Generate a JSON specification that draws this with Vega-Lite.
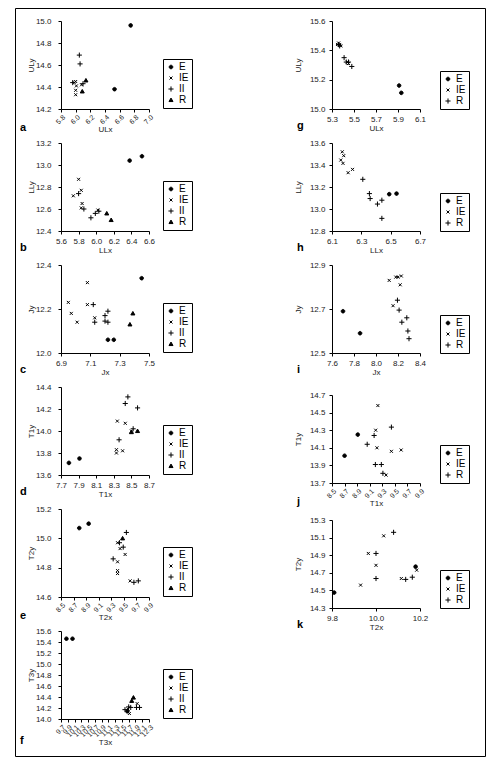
{
  "$schema": "https://vega.github.io/schema/vega-lite/v6.json",
  "padding": {"left": 14, "top": 7, "right": 5, "bottom": 8},
  "background": "white",
  "bounds": "flush",
  "columns": 2,
  "align": "none",
  "spacing": {"column": -424, "row": 0},
  "resolve": {"scale": {"shape": "independent"}, "legend": {"shape": "independent"}},
  "datasets": {
    "a": [
      {"g": "E", "x": 6.75, "y": 14.96}, {"g": "E", "x": 6.53, "y": 14.38},
      {"g": "IE", "x": 6.0, "y": 14.45}, {"g": "IE", "x": 6.01, "y": 14.41}, {"g": "IE", "x": 6.0, "y": 14.37}, {"g": "IE", "x": 6.0, "y": 14.33}, {"g": "IE", "x": 6.08, "y": 14.42}, {"g": "IE", "x": 5.98, "y": 14.44},
      {"g": "II", "x": 6.05, "y": 14.69}, {"g": "II", "x": 6.06, "y": 14.61}, {"g": "II", "x": 5.96, "y": 14.44}, {"g": "II", "x": 6.1, "y": 14.43},
      {"g": "R", "x": 6.14, "y": 14.46}, {"g": "R", "x": 6.09, "y": 14.36}
    ],
    "b": [
      {"g": "E", "x": 6.38, "y": 13.04}, {"g": "E", "x": 6.52, "y": 13.08},
      {"g": "IE", "x": 5.8, "y": 12.87}, {"g": "IE", "x": 5.83, "y": 12.77}, {"g": "IE", "x": 5.74, "y": 12.72}, {"g": "IE", "x": 5.84, "y": 12.65}, {"g": "IE", "x": 5.83, "y": 12.61}, {"g": "IE", "x": 6.02, "y": 12.59},
      {"g": "II", "x": 5.8, "y": 12.74}, {"g": "II", "x": 5.86, "y": 12.6}, {"g": "II", "x": 5.94, "y": 12.52}, {"g": "II", "x": 5.99, "y": 12.56}, {"g": "II", "x": 6.03, "y": 12.58},
      {"g": "R", "x": 6.12, "y": 12.56}, {"g": "R", "x": 6.17, "y": 12.5}
    ],
    "c": [
      {"g": "E", "x": 7.45, "y": 12.34}, {"g": "E", "x": 7.22, "y": 12.06}, {"g": "E", "x": 7.26, "y": 12.06},
      {"g": "IE", "x": 7.08, "y": 12.32}, {"g": "IE", "x": 6.95, "y": 12.23}, {"g": "IE", "x": 6.97, "y": 12.18}, {"g": "IE", "x": 7.08, "y": 12.22}, {"g": "IE", "x": 7.01, "y": 12.14}, {"g": "IE", "x": 7.13, "y": 12.16},
      {"g": "II", "x": 7.12, "y": 12.22}, {"g": "II", "x": 7.13, "y": 12.14}, {"g": "II", "x": 7.2, "y": 12.17}, {"g": "II", "x": 7.22, "y": 12.19}, {"g": "II", "x": 7.2, "y": 12.145}, {"g": "II", "x": 7.22, "y": 12.14},
      {"g": "R", "x": 7.37, "y": 12.13}, {"g": "R", "x": 7.39, "y": 12.18}
    ],
    "d": [
      {"g": "E", "x": 7.79, "y": 13.71}, {"g": "E", "x": 7.91, "y": 13.75},
      {"g": "IE", "x": 8.34, "y": 14.09}, {"g": "IE", "x": 8.43, "y": 14.07}, {"g": "IE", "x": 8.33, "y": 13.83}, {"g": "IE", "x": 8.33, "y": 13.8}, {"g": "IE", "x": 8.4, "y": 13.82}, {"g": "IE", "x": 8.5, "y": 14.0},
      {"g": "II", "x": 8.46, "y": 14.31}, {"g": "II", "x": 8.43, "y": 14.25}, {"g": "II", "x": 8.57, "y": 14.21}, {"g": "II", "x": 8.36, "y": 13.92}, {"g": "II", "x": 8.52, "y": 14.02},
      {"g": "R", "x": 8.5, "y": 13.99}, {"g": "R", "x": 8.57, "y": 14.0}
    ],
    "e": [
      {"g": "E", "x": 8.79, "y": 15.07}, {"g": "E", "x": 8.94, "y": 15.1},
      {"g": "IE", "x": 9.4, "y": 14.97}, {"g": "IE", "x": 9.44, "y": 14.93}, {"g": "IE", "x": 9.52, "y": 14.89}, {"g": "IE", "x": 9.4, "y": 14.84}, {"g": "IE", "x": 9.4, "y": 14.78}, {"g": "IE", "x": 9.4, "y": 14.76}, {"g": "IE", "x": 9.6, "y": 14.71},
      {"g": "II", "x": 9.54, "y": 15.04}, {"g": "II", "x": 9.43, "y": 14.97}, {"g": "II", "x": 9.49, "y": 14.94}, {"g": "II", "x": 9.33, "y": 14.86}, {"g": "II", "x": 9.66, "y": 14.7}, {"g": "II", "x": 9.73, "y": 14.71},
      {"g": "R", "x": 9.48, "y": 15.0}
    ],
    "f": [
      {"g": "E", "x": 9.86, "y": 15.46}, {"g": "E", "x": 10.04, "y": 15.46}, {"g": "E", "x": 11.66, "y": 14.14},
      {"g": "IE", "x": 11.72, "y": 14.1}, {"g": "IE", "x": 11.95, "y": 14.28}, {"g": "IE", "x": 11.68, "y": 14.18},
      {"g": "II", "x": 11.59, "y": 14.17}, {"g": "II", "x": 11.7, "y": 14.22}, {"g": "II", "x": 11.76, "y": 14.21}, {"g": "II", "x": 11.93, "y": 14.21}, {"g": "II", "x": 12.02, "y": 14.21},
      {"g": "R", "x": 11.84, "y": 14.39}, {"g": "R", "x": 11.79, "y": 14.33}
    ],
    "g": [
      {"g": "E", "x": 5.91, "y": 15.16}, {"g": "E", "x": 5.93, "y": 15.11},
      {"g": "IE", "x": 5.36, "y": 15.45}, {"g": "IE", "x": 5.37, "y": 15.44}, {"g": "IE", "x": 5.38, "y": 15.43}, {"g": "IE", "x": 5.35, "y": 15.44}, {"g": "IE", "x": 5.44, "y": 15.32}, {"g": "IE", "x": 5.45, "y": 15.31},
      {"g": "R", "x": 5.36, "y": 15.44}, {"g": "R", "x": 5.37, "y": 15.43}, {"g": "R", "x": 5.41, "y": 15.35}, {"g": "R", "x": 5.43, "y": 15.32}, {"g": "R", "x": 5.45, "y": 15.32}, {"g": "R", "x": 5.48, "y": 15.29}
    ],
    "h": [
      {"g": "E", "x": 6.49, "y": 13.135}, {"g": "E", "x": 6.54, "y": 13.14},
      {"g": "IE", "x": 6.17, "y": 13.52}, {"g": "IE", "x": 6.18, "y": 13.485}, {"g": "IE", "x": 6.16, "y": 13.445}, {"g": "IE", "x": 6.175, "y": 13.415}, {"g": "IE", "x": 6.21, "y": 13.33}, {"g": "IE", "x": 6.24, "y": 13.36},
      {"g": "R", "x": 6.31, "y": 13.27}, {"g": "R", "x": 6.355, "y": 13.14}, {"g": "R", "x": 6.36, "y": 13.095}, {"g": "R", "x": 6.41, "y": 13.045}, {"g": "R", "x": 6.44, "y": 13.08}, {"g": "R", "x": 6.44, "y": 12.915}
    ],
    "i": [
      {"g": "E", "x": 7.7, "y": 12.69}, {"g": "E", "x": 7.855, "y": 12.59},
      {"g": "IE", "x": 8.12, "y": 12.83}, {"g": "IE", "x": 8.18, "y": 12.845}, {"g": "IE", "x": 8.2, "y": 12.845}, {"g": "IE", "x": 8.23, "y": 12.85}, {"g": "IE", "x": 8.22, "y": 12.81}, {"g": "IE", "x": 8.155, "y": 12.715},
      {"g": "R", "x": 8.195, "y": 12.74}, {"g": "R", "x": 8.21, "y": 12.695}, {"g": "R", "x": 8.28, "y": 12.66}, {"g": "R", "x": 8.235, "y": 12.64}, {"g": "R", "x": 8.29, "y": 12.6}, {"g": "R", "x": 8.3, "y": 12.565}
    ],
    "j": [
      {"g": "E", "x": 8.7, "y": 14.01}, {"g": "E", "x": 8.91, "y": 14.25},
      {"g": "IE", "x": 9.23, "y": 14.58}, {"g": "IE", "x": 9.195, "y": 14.3}, {"g": "IE", "x": 9.215, "y": 14.1}, {"g": "IE", "x": 9.445, "y": 14.06}, {"g": "IE", "x": 9.6, "y": 14.075}, {"g": "IE", "x": 9.36, "y": 13.79},
      {"g": "R", "x": 9.17, "y": 14.24}, {"g": "R", "x": 9.06, "y": 14.14}, {"g": "R", "x": 9.19, "y": 13.91}, {"g": "R", "x": 9.285, "y": 13.91}, {"g": "R", "x": 9.31, "y": 13.81}, {"g": "R", "x": 9.445, "y": 14.335}
    ],
    "k": [
      {"g": "E", "x": 9.81, "y": 14.475}, {"g": "E", "x": 10.18, "y": 14.77},
      {"g": "IE", "x": 9.965, "y": 14.92}, {"g": "IE", "x": 10.035, "y": 15.12}, {"g": "IE", "x": 10.0, "y": 14.785}, {"g": "IE", "x": 9.93, "y": 14.56}, {"g": "IE", "x": 10.115, "y": 14.635}, {"g": "IE", "x": 10.185, "y": 14.73},
      {"g": "R", "x": 10.08, "y": 15.16}, {"g": "R", "x": 10.0, "y": 14.92}, {"g": "R", "x": 10.0, "y": 14.635}, {"g": "R", "x": 10.135, "y": 14.625}, {"g": "R", "x": 10.165, "y": 14.65}
    ]
  },
  "concat": [
    {
      "width": 470, "height": 748,
      "view": {"stroke": "black", "strokeWidth": 1},
      "data": {"values": []},
      "mark": "point"
    },
    {
      "bounds": "flush", "spacing": 12,
      "resolve": {"scale": {"shape": "independent"}, "legend": {"shape": "independent"}},
      "vconcat": [
        {"width": 1, "height": 1, "data": {"values": []}, "mark": "point"},
        {
          "bounds": "flush", "spacing": 271,
          "resolve": {"scale": {"shape": "independent"}, "legend": {"shape": "independent"}},
          "hconcat": [
            {
              "bounds": "flush", "spacing": 34,
              "resolve": {"scale": {"shape": "independent"}, "legend": {"shape": "independent"}},
              "vconcat": [
                {
                  "width": 88, "height": 88, "data": {"name": "a"},
                  "title": {"text": "a", "orient": "bottom", "anchor": "start", "frame": "group", "dx": -41, "offset": -12},
                  "mark": {"type": "point", "filled": true, "fill": "black", "stroke": "black", "strokeWidth": 1, "size": 36, "opacity": 1},
                  "encoding": {
                    "x": {"field": "x", "type": "quantitative", "scale": {"domain": [5.8, 7.0], "nice": false, "zero": false}, "axis": {"title": "ULx", "values": [5.8, 6.0, 6.2, 6.4, 6.6, 6.8, 7.0], "labelAngle": -45, "labelFontSize": 7, "labelPadding": 1, "titlePadding": 1}},
                    "y": {"field": "y", "type": "quantitative", "scale": {"domain": [14.2, 15.0], "nice": false, "zero": false}, "axis": {"title": "ULy", "values": [14.2, 14.4, 14.6, 14.8, 15.0]}},
                    "shape": {"field": "g", "type": "nominal", "scale": {"domain": ["E", "IE", "II", "R"], "range": ["M0.6,0A0.6,0.6,0,1,1,-0.6,0A0.6,0.6,0,1,1,0.6,0Z", "M-0.5,-0.5L0.5,0.5M-0.5,0.5L0.5,-0.5", "M-0.85,0L0.85,0M0,-0.85L0,0.85", "M0,-0.65L0.67,0.52L-0.67,0.52Z"]}, "legend": {"title": null, "orient": "none", "legendX": 102, "legendY": 38}}
                  }
                },
                {
                  "width": 88, "height": 88, "data": {"name": "b"},
                  "title": {"text": "b", "orient": "bottom", "anchor": "start", "frame": "group", "dx": -41, "offset": -12},
                  "mark": {"type": "point", "filled": true, "fill": "black", "stroke": "black", "strokeWidth": 1, "size": 36, "opacity": 1},
                  "encoding": {
                    "x": {"field": "x", "type": "quantitative", "scale": {"domain": [5.6, 6.6], "nice": false, "zero": false}, "axis": {"title": "LLx", "values": [5.6, 5.8, 6.0, 6.2, 6.4, 6.6]}},
                    "y": {"field": "y", "type": "quantitative", "scale": {"domain": [12.4, 13.2], "nice": false, "zero": false}, "axis": {"title": "LLy", "values": [12.4, 12.6, 12.8, 13.0, 13.2]}},
                    "shape": {"field": "g", "type": "nominal", "scale": {"domain": ["E", "IE", "II", "R"], "range": ["M0.6,0A0.6,0.6,0,1,1,-0.6,0A0.6,0.6,0,1,1,0.6,0Z", "M-0.5,-0.5L0.5,0.5M-0.5,0.5L0.5,-0.5", "M-0.85,0L0.85,0M0,-0.85L0,0.85", "M0,-0.65L0.67,0.52L-0.67,0.52Z"]}, "legend": {"title": null, "orient": "none", "legendX": 102, "legendY": 38}}
                  }
                },
                {
                  "width": 88, "height": 88, "data": {"name": "c"},
                  "title": {"text": "c", "orient": "bottom", "anchor": "start", "frame": "group", "dx": -41, "offset": -12},
                  "mark": {"type": "point", "filled": true, "fill": "black", "stroke": "black", "strokeWidth": 1, "size": 36, "opacity": 1},
                  "encoding": {
                    "x": {"field": "x", "type": "quantitative", "scale": {"domain": [6.9, 7.5], "nice": false, "zero": false}, "axis": {"title": "Jx", "values": [6.9, 7.1, 7.3, 7.5]}},
                    "y": {"field": "y", "type": "quantitative", "scale": {"domain": [12.0, 12.4], "nice": false, "zero": false}, "axis": {"title": "Jy", "values": [12.0, 12.2, 12.4]}},
                    "shape": {"field": "g", "type": "nominal", "scale": {"domain": ["E", "IE", "II", "R"], "range": ["M0.6,0A0.6,0.6,0,1,1,-0.6,0A0.6,0.6,0,1,1,0.6,0Z", "M-0.5,-0.5L0.5,0.5M-0.5,0.5L0.5,-0.5", "M-0.85,0L0.85,0M0,-0.85L0,0.85", "M0,-0.65L0.67,0.52L-0.67,0.52Z"]}, "legend": {"title": null, "orient": "none", "legendX": 102, "legendY": 38}}
                  }
                },
                {
                  "width": 88, "height": 88, "data": {"name": "d"},
                  "title": {"text": "d", "orient": "bottom", "anchor": "start", "frame": "group", "dx": -41, "offset": -12},
                  "mark": {"type": "point", "filled": true, "fill": "black", "stroke": "black", "strokeWidth": 1, "size": 36, "opacity": 1},
                  "encoding": {
                    "x": {"field": "x", "type": "quantitative", "scale": {"domain": [7.7, 8.7], "nice": false, "zero": false}, "axis": {"title": "T1x", "values": [7.7, 7.9, 8.1, 8.3, 8.5, 8.7]}},
                    "y": {"field": "y", "type": "quantitative", "scale": {"domain": [13.6, 14.4], "nice": false, "zero": false}, "axis": {"title": "T1y", "values": [13.6, 13.8, 14.0, 14.2, 14.4]}},
                    "shape": {"field": "g", "type": "nominal", "scale": {"domain": ["E", "IE", "II", "R"], "range": ["M0.6,0A0.6,0.6,0,1,1,-0.6,0A0.6,0.6,0,1,1,0.6,0Z", "M-0.5,-0.5L0.5,0.5M-0.5,0.5L0.5,-0.5", "M-0.85,0L0.85,0M0,-0.85L0,0.85", "M0,-0.65L0.67,0.52L-0.67,0.52Z"]}, "legend": {"title": null, "orient": "none", "legendX": 102, "legendY": 38}}
                  }
                },
                {
                  "width": 88, "height": 88, "data": {"name": "e"},
                  "title": {"text": "e", "orient": "bottom", "anchor": "start", "frame": "group", "dx": -41, "offset": -12},
                  "mark": {"type": "point", "filled": true, "fill": "black", "stroke": "black", "strokeWidth": 1, "size": 36, "opacity": 1},
                  "encoding": {
                    "x": {"field": "x", "type": "quantitative", "scale": {"domain": [8.5, 9.9], "nice": false, "zero": false}, "axis": {"title": "T2x", "values": [8.5, 8.7, 8.9, 9.1, 9.3, 9.5, 9.7, 9.9], "labelAngle": -45, "labelFontSize": 7, "labelPadding": 1, "titlePadding": 1}},
                    "y": {"field": "y", "type": "quantitative", "scale": {"domain": [14.6, 15.2], "nice": false, "zero": false}, "axis": {"title": "T2y", "values": [14.6, 14.8, 15.0, 15.2]}},
                    "shape": {"field": "g", "type": "nominal", "scale": {"domain": ["E", "IE", "II", "R"], "range": ["M0.6,0A0.6,0.6,0,1,1,-0.6,0A0.6,0.6,0,1,1,0.6,0Z", "M-0.5,-0.5L0.5,0.5M-0.5,0.5L0.5,-0.5", "M-0.85,0L0.85,0M0,-0.85L0,0.85", "M0,-0.65L0.67,0.52L-0.67,0.52Z"]}, "legend": {"title": null, "orient": "none", "legendX": 102, "legendY": 38}}
                  }
                },
                {
                  "width": 88, "height": 88, "data": {"name": "f"},
                  "title": {"text": "f", "orient": "bottom", "anchor": "start", "frame": "group", "dx": -41, "offset": -12},
                  "mark": {"type": "point", "filled": true, "fill": "black", "stroke": "black", "strokeWidth": 1, "size": 36, "opacity": 1},
                  "encoding": {
                    "x": {"field": "x", "type": "quantitative", "scale": {"domain": [9.7, 12.3], "nice": false, "zero": false}, "axis": {"title": "T3x", "values": [9.7, 9.9, 10.1, 10.3, 10.5, 10.7, 10.9, 11.1, 11.3, 11.5, 11.7, 11.9, 12.1, 12.3], "labelAngle": -45, "labelFontSize": 7, "labelPadding": 1, "titlePadding": 1}},
                    "y": {"field": "y", "type": "quantitative", "scale": {"domain": [14.0, 15.6], "nice": false, "zero": false}, "axis": {"title": "T3y", "values": [14.0, 14.2, 14.4, 14.6, 14.8, 15.0, 15.2, 15.4, 15.6]}},
                    "shape": {"field": "g", "type": "nominal", "scale": {"domain": ["E", "IE", "II", "R"], "range": ["M0.6,0A0.6,0.6,0,1,1,-0.6,0A0.6,0.6,0,1,1,0.6,0Z", "M-0.5,-0.5L0.5,0.5M-0.5,0.5L0.5,-0.5", "M-0.85,0L0.85,0M0,-0.85L0,0.85", "M0,-0.65L0.67,0.52L-0.67,0.52Z"]}, "legend": {"title": null, "orient": "none", "legendX": 102, "legendY": 38}}
                  }
                }
              ]
            },
            {
              "bounds": "flush", "spacing": 374,
              "resolve": {"scale": {"shape": "independent"}, "legend": {"shape": "independent"}},
              "vconcat": [
                {
                  "bounds": "flush", "spacing": 34,
                  "resolve": {"scale": {"shape": "independent"}, "legend": {"shape": "independent"}},
                  "vconcat": [
                    {
                      "width": 88, "height": 88, "data": {"name": "g"},
                      "title": {"text": "g", "orient": "bottom", "anchor": "start", "frame": "group", "dx": -35, "offset": -12},
                      "mark": {"type": "point", "filled": true, "fill": "black", "stroke": "black", "strokeWidth": 1, "size": 36, "opacity": 1},
                      "encoding": {
                        "x": {"field": "x", "type": "quantitative", "scale": {"domain": [5.3, 6.1], "nice": false, "zero": false}, "axis": {"title": "ULx", "values": [5.3, 5.5, 5.7, 5.9, 6.1]}},
                        "y": {"field": "y", "type": "quantitative", "scale": {"domain": [15.0, 15.6], "nice": false, "zero": false}, "axis": {"title": "ULy", "values": [15.0, 15.2, 15.4, 15.6], "labelPadding": 4, "titlePadding": 7}},
                        "shape": {"field": "g", "type": "nominal", "scale": {"domain": ["E", "IE", "R"], "range": ["M0.6,0A0.6,0.6,0,1,1,-0.6,0A0.6,0.6,0,1,1,0.6,0Z", "M-0.5,-0.5L0.5,0.5M-0.5,0.5L0.5,-0.5", "M-0.85,0L0.85,0M0,-0.85L0,0.85"]}, "legend": {"title": null, "orient": "none", "legendX": 108, "legendY": 50, "labelExpr": "datum.label + '   '"}}
                      }
                    },
                    {
                      "width": 88, "height": 88, "data": {"name": "h"},
                      "title": {"text": "h", "orient": "bottom", "anchor": "start", "frame": "group", "dx": -35, "offset": -12},
                      "mark": {"type": "point", "filled": true, "fill": "black", "stroke": "black", "strokeWidth": 1, "size": 36, "opacity": 1},
                      "encoding": {
                        "x": {"field": "x", "type": "quantitative", "scale": {"domain": [6.1, 6.7], "nice": false, "zero": false}, "axis": {"title": "LLx", "values": [6.1, 6.3, 6.5, 6.7]}},
                        "y": {"field": "y", "type": "quantitative", "scale": {"domain": [12.8, 13.6], "nice": false, "zero": false}, "axis": {"title": "LLy", "values": [12.8, 13.0, 13.2, 13.4, 13.6], "labelPadding": 4, "titlePadding": 7}},
                        "shape": {"field": "g", "type": "nominal", "scale": {"domain": ["E", "IE", "R"], "range": ["M0.6,0A0.6,0.6,0,1,1,-0.6,0A0.6,0.6,0,1,1,0.6,0Z", "M-0.5,-0.5L0.5,0.5M-0.5,0.5L0.5,-0.5", "M-0.85,0L0.85,0M0,-0.85L0,0.85"]}, "legend": {"title": null, "orient": "none", "legendX": 108, "legendY": 50, "labelExpr": "datum.label + '   '"}}
                      }
                    },
                    {
                      "width": 88, "height": 88, "data": {"name": "i"},
                      "title": {"text": "i", "orient": "bottom", "anchor": "start", "frame": "group", "dx": -35, "offset": -12},
                      "mark": {"type": "point", "filled": true, "fill": "black", "stroke": "black", "strokeWidth": 1, "size": 36, "opacity": 1},
                      "encoding": {
                        "x": {"field": "x", "type": "quantitative", "scale": {"domain": [7.6, 8.4], "nice": false, "zero": false}, "axis": {"title": "Jx", "values": [7.6, 7.8, 8.0, 8.2, 8.4]}},
                        "y": {"field": "y", "type": "quantitative", "scale": {"domain": [12.5, 12.9], "nice": false, "zero": false}, "axis": {"title": "Jy", "values": [12.5, 12.7, 12.9], "labelPadding": 4, "titlePadding": 7}},
                        "shape": {"field": "g", "type": "nominal", "scale": {"domain": ["E", "IE", "R"], "range": ["M0.6,0A0.6,0.6,0,1,1,-0.6,0A0.6,0.6,0,1,1,0.6,0Z", "M-0.5,-0.5L0.5,0.5M-0.5,0.5L0.5,-0.5", "M-0.85,0L0.85,0M0,-0.85L0,0.85"]}, "legend": {"title": null, "orient": "none", "legendX": 108, "legendY": 50, "labelExpr": "datum.label + '   '"}}
                      }
                    }
                  ]
                },
                {
                  "bounds": "flush", "spacing": 37,
                  "resolve": {"scale": {"shape": "independent"}, "legend": {"shape": "independent"}},
                  "vconcat": [
                    {
                      "width": 88, "height": 88, "data": {"name": "j"},
                      "title": {"text": "j", "orient": "bottom", "anchor": "start", "frame": "group", "dx": -35, "offset": -12},
                      "mark": {"type": "point", "filled": true, "fill": "black", "stroke": "black", "strokeWidth": 1, "size": 36, "opacity": 1},
                      "encoding": {
                        "x": {"field": "x", "type": "quantitative", "scale": {"domain": [8.5, 9.9], "nice": false, "zero": false}, "axis": {"title": "T1x", "values": [8.5, 8.7, 8.9, 9.1, 9.3, 9.5, 9.7, 9.9], "labelAngle": -45, "labelFontSize": 7, "labelPadding": 1, "titlePadding": 1}},
                        "y": {"field": "y", "type": "quantitative", "scale": {"domain": [13.7, 14.7], "nice": false, "zero": false}, "axis": {"title": "T1y", "values": [13.7, 13.9, 14.1, 14.3, 14.5, 14.7], "labelPadding": 4, "titlePadding": 7}},
                        "shape": {"field": "g", "type": "nominal", "scale": {"domain": ["E", "IE", "R"], "range": ["M0.6,0A0.6,0.6,0,1,1,-0.6,0A0.6,0.6,0,1,1,0.6,0Z", "M-0.5,-0.5L0.5,0.5M-0.5,0.5L0.5,-0.5", "M-0.85,0L0.85,0M0,-0.85L0,0.85"]}, "legend": {"title": null, "orient": "none", "legendX": 108, "legendY": 50, "labelExpr": "datum.label + '   '"}}
                      }
                    },
                    {
                      "width": 88, "height": 88, "data": {"name": "k"},
                      "title": {"text": "k", "orient": "bottom", "anchor": "start", "frame": "group", "dx": -35, "offset": -12},
                      "mark": {"type": "point", "filled": true, "fill": "black", "stroke": "black", "strokeWidth": 1, "size": 36, "opacity": 1},
                      "encoding": {
                        "x": {"field": "x", "type": "quantitative", "scale": {"domain": [9.8, 10.2], "nice": false, "zero": false}, "axis": {"title": "T2x", "values": [9.8, 10.0, 10.2]}},
                        "y": {"field": "y", "type": "quantitative", "scale": {"domain": [14.3, 15.3], "nice": false, "zero": false}, "axis": {"title": "T2y", "values": [14.3, 14.5, 14.7, 14.9, 15.1, 15.3], "labelPadding": 4, "titlePadding": 7}},
                        "shape": {"field": "g", "type": "nominal", "scale": {"domain": ["E", "IE", "R"], "range": ["M0.6,0A0.6,0.6,0,1,1,-0.6,0A0.6,0.6,0,1,1,0.6,0Z", "M-0.5,-0.5L0.5,0.5M-0.5,0.5L0.5,-0.5", "M-0.85,0L0.85,0M0,-0.85L0,0.85"]}, "legend": {"title": null, "orient": "none", "legendX": 108, "legendY": 50, "labelExpr": "datum.label + '   '"}}
                      }
                    }
                  ]
                }
              ]
            }
          ]
        }
      ]
    }
  ],
  "config": {
    "view": {"stroke": null},
    "numberFormat": ".1f",
    "axis": {
      "grid": false,
      "domainColor": "black", "domainWidth": 1,
      "tickColor": "black", "tickWidth": 1, "tickSize": 3,
      "labelFont": "Liberation Sans", "labelFontSize": 8, "labelColor": "#222",
      "labelOverlap": false, "labelFlush": false, "labelBound": false,
      "titleFont": "Liberation Sans", "titleFontSize": 8, "titleFontWeight": "normal", "titleColor": "#222"
    },
    "axisX": {"labelPadding": 3, "titlePadding": 1},
    "axisY": {"labelPadding": 7, "titlePadding": 0},
    "legend": {
      "strokeColor": "black", "padding": 3, "rowPadding": 1,
      "labelFont": "Liberation Sans", "labelFontSize": 10, "labelColor": "black", "labelOffset": 3,
      "symbolSize": 36, "symbolStrokeWidth": 1
    },
    "title": {"font": "Liberation Sans", "fontSize": 11, "fontWeight": "bold", "color": "black"}
  }
}
